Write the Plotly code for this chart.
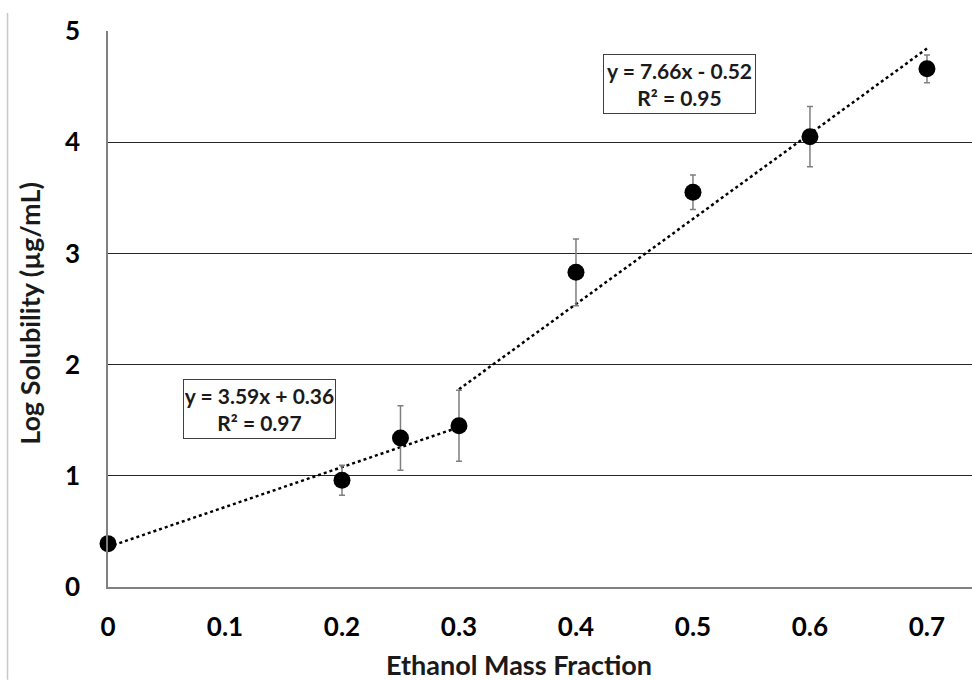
import plotly.graph_objects as go
import numpy as np

# Measured log solubility vs ethanol mass fraction
ethanol_fraction = [0.0, 0.2, 0.25, 0.3, 0.4, 0.5, 0.6, 0.7]
log_solubility = [0.39, 0.96, 1.34, 1.45, 2.83, 3.55, 4.05, 4.66]
log_solubility_err = [0.0, 0.135, 0.29, 0.32, 0.30, 0.155, 0.27, 0.125]

# Piecewise linear fits: (slope, intercept, R², x-start, x-end)
low_fit = (3.59, 0.36, 0.97, 0.0, 0.3)
high_fit = (7.66, -0.52, 0.95, 0.3, 0.7)

x_ticks = [0, 0.1, 0.2, 0.3, 0.4, 0.5, 0.6, 0.7]
x_tick_text = ["0", "0.1", "0.2", "0.3", "0.4", "0.5", "0.6", "0.7"]
y_ticks = [0, 1, 2, 3, 4, 5]

FONT = "Lato"
TEXT_DARK = "#1a1a1a"
TITLE_FONT = dict(family=FONT, size=27, color=TEXT_DARK, weight="bold")
TICK_FONT = dict(family=FONT, size=26, color="black", weight="bold")

fig = go.Figure()


def fit_trace(fit):
    slope, intercept, _, x0, x1 = fit
    xs = np.array([x0, x1])
    return go.Scatter(
        x=xs, y=slope * xs + intercept, mode="lines",
        line=dict(color="black", width=2.5, dash="dot"),
        hoverinfo="skip", showlegend=False, cliponaxis=False,
    )


fig.add_trace(fit_trace(low_fit))
fig.add_trace(fit_trace(high_fit))

fig.add_trace(go.Scatter(
    x=ethanol_fraction, y=log_solubility, mode="markers",
    marker=dict(color="black", size=17),
    error_y=dict(type="data", array=log_solubility_err, visible=True,
                 color="#7f7f7f", thickness=1.5, width=3),
    showlegend=False, cliponaxis=False,
))


def fit_label(fit, x, y):
    slope, intercept, r2, _, _ = fit
    sign = "+" if intercept >= 0 else "-"
    text = f"y = {slope:.2f}x {sign} {abs(intercept):.2f}<br>R² = {r2:.2f}"
    return dict(
        x=x, y=y, xref="x", yref="y", text=text, showarrow=False,
        xanchor="center", yanchor="middle", align="center",
        font=dict(family=FONT, size=21, color=TEXT_DARK, weight="bold"),
        bgcolor="white", bordercolor="#404040", borderwidth=1,
        borderpad=1, width=149, height=56,
    )


annotations = [
    fit_label(high_fit, 0.4885, 4.526),
    fit_label(low_fit, 0.1295, 1.604),
    # axis titles
    dict(text="Ethanol Mass Fraction", xref="paper", yref="paper",
         x=0.4757, y=-0.140, xanchor="center", yanchor="middle",
         showarrow=False, font=TITLE_FONT),
    dict(text="Log Solubility (µg/mL)", xref="paper", yref="paper",
         x=-0.0903, y=0.493, xanchor="center", yanchor="middle",
         textangle=-90, showarrow=False, font=TITLE_FONT),
]

fig.update_layout(
    width=972, height=680,
    margin=dict(l=108, r=0, t=31, b=93),
    plot_bgcolor="white", paper_bgcolor="white",
    annotations=annotations,
    xaxis=dict(
        range=[0, 0.7385], tickvals=x_ticks, ticktext=x_tick_text,
        showgrid=False, zeroline=False, showline=True,
        linecolor="#808080", linewidth=1.5, ticks="",
        ticklabelstandoff=16, tickfont=TICK_FONT,
    ),
    yaxis=dict(
        range=[0, 5], tickvals=y_ticks,
        showgrid=True, gridcolor="#262626", gridwidth=1,
        zeroline=False, showline=True, linecolor="#808080", linewidth=1.5,
        ticks="", ticklabelstandoff=21, tickfont=TICK_FONT,
    ),
    shapes=[
        dict(type="line", xref="paper", yref="paper",
             x0=-0.1163, x1=-0.1163, y0=1.0324, y1=-0.167,
             line=dict(color="#c8c8c8", width=1.5)),
    ],
)

fig.write_html("out.html")
